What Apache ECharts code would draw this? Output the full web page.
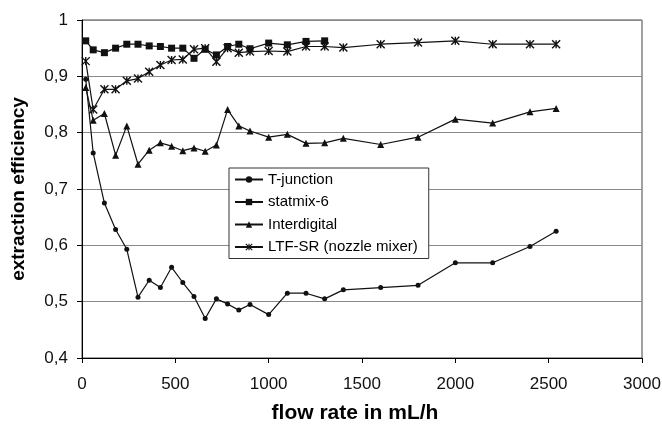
<!DOCTYPE html>
<html>
<head>
<meta charset="utf-8">
<script src="https://cdn.jsdelivr.net/npm/echarts@6/dist/echarts.min.js"></script>
<style>
  html, body { margin: 0; padding: 0; background: #fff; }
  #chart { width: 662px; height: 424px; }
</style>
</head>
<body>
<div id="chart"></div>
<script>
// flow rate (mL/h) for every measured point
const flowRates = [20, 60, 120, 180, 240, 300, 360, 420, 480, 540, 600, 660, 720, 780, 840, 900, 1000, 1100, 1200, 1300, 1400, 1600, 1800, 2000, 2200, 2400, 2540];

const tJunction = [0.895, 0.764, 0.675, 0.628, 0.593, 0.508, 0.538, 0.525, 0.561, 0.534, 0.509, 0.470, 0.505, 0.496, 0.485, 0.495, 0.477, 0.515, 0.515, 0.505, 0.521, 0.525, 0.529, 0.569, 0.569, 0.598, 0.625];
// statmix-6 stops at 1300 mL/h
const statmix6 = [0.963, 0.947, 0.942, 0.950, 0.957, 0.957, 0.954, 0.953, 0.950, 0.950, 0.932, 0.948, 0.938, 0.953, 0.957, 0.949, 0.959, 0.956, 0.962, 0.963];
const interdigital = [0.880, 0.822, 0.834, 0.760, 0.812, 0.744, 0.769, 0.782, 0.776, 0.768, 0.773, 0.767, 0.778, 0.841, 0.812, 0.803, 0.792, 0.797, 0.781, 0.782, 0.790, 0.779, 0.792, 0.824, 0.817, 0.837, 0.843];
const ltfSr = [0.927, 0.841, 0.877, 0.877, 0.892, 0.896, 0.908, 0.920, 0.929, 0.930, 0.948, 0.950, 0.926, 0.950, 0.942, 0.944, 0.945, 0.944, 0.953, 0.953, 0.951, 0.957, 0.960, 0.963, 0.957, 0.957, 0.957];

const seriesNames = ['T-junction', 'statmix-6', 'Interdigital', 'LTF-SR (nozzle mixer)'];

const FONT = '"Liberation Sans", Arial, sans-serif';
const INK = '#111';
const STAR = 'path://M0,0L10,10M10,0L0,10M5,0L5,10';

const toPairs = (values) => values.map((v, i) => [flowRates[i], v]);

const makeSeries = (name, values, symbol, size, extraItem) => ({
  name: name,
  type: 'line',
  data: toPairs(values),
  symbol: symbol,
  symbolSize: size,
  showAllSymbol: true,
  lineStyle: { color: INK, width: 1.2 },
  itemStyle: Object.assign({ color: INK, borderWidth: 0 }, extraItem || {}),
  emphasis: { disabled: true }
});

const chart = echarts.init(document.getElementById('chart'), null, { renderer: 'canvas' });

const option = {
  animation: false,
  backgroundColor: '#fff',
  textStyle: { fontFamily: FONT },
  grid: {
    left: 82,
    right: 20,
    top: 20,
    bottom: 66,
    containLabel: false,
    outerBoundsMode: 'none',
    show: true,
    borderColor: '#444',
    borderWidth: 1
  },
  legend: {
    orient: 'vertical',
    left: 229,
    top: 168,
    data: [
      { name: seriesNames[0] },
      { name: seriesNames[1] },
      { name: seriesNames[2] },
      { name: seriesNames[3], itemStyle: { borderColor: INK, borderWidth: 1.1 } }
    ],
    itemWidth: 28,
    itemHeight: 8,
    itemGap: 7.5,
    padding: [4, 11, 4, 5],
    backgroundColor: '#fff',
    borderColor: '#333',
    borderWidth: 1,
    textStyle: { fontSize: 15, lineHeight: 15, color: '#000', fontFamily: FONT }
  },
  xAxis: {
    type: 'value',
    min: 0,
    max: 3000,
    interval: 500,
    name: 'flow rate in mL/h',
    nameLocation: 'middle',
    nameGap: 45,
    nameTextStyle: { fontSize: 21, fontWeight: 'bold', color: '#000', fontFamily: FONT, padding: [0, 14, 0, 0] },
    axisLine: { lineStyle: { color: '#000', width: 1 } },
    axisTick: { inside: false, length: 5, lineStyle: { color: '#000' } },
    axisLabel: { fontSize: 17, color: '#111', margin: 18, fontFamily: FONT, formatter: (v) => String(v) },
    splitLine: { show: false }
  },
  yAxis: {
    type: 'value',
    min: 0.4,
    max: 1,
    interval: 0.1,
    name: 'extraction efficiency',
    nameLocation: 'middle',
    nameGap: 54,
    nameTextStyle: { fontSize: 19, fontWeight: 'bold', color: '#000', fontFamily: FONT },
    axisLine: { show: true, lineStyle: { color: '#000', width: 1 } },
    axisTick: { show: true, inside: false, length: 5, lineStyle: { color: '#000' } },
    axisLabel: {
      fontSize: 17,
      color: '#111',
      margin: 14,
      fontFamily: FONT,
      formatter: (v) => String(+v.toFixed(1)).replace('.', ',')
    },
    splitLine: { show: true, lineStyle: { color: '#8a8a8a', width: 1 } }
  },
  series: [
    makeSeries(seriesNames[0], tJunction, 'circle', 5),
    makeSeries(seriesNames[1], statmix6, 'rect', 7),
    makeSeries(seriesNames[2], interdigital, 'triangle', 7),
    makeSeries(seriesNames[3], ltfSr, STAR, 8, { borderColor: INK, borderWidth: 1.4 })
  ]
};

chart.setOption(option);
</script>
</body>
</html>
